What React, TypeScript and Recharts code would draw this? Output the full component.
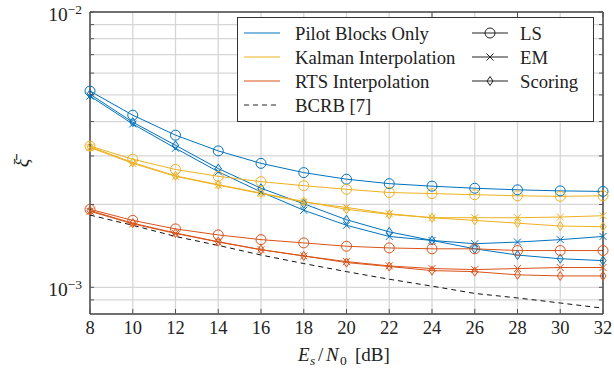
import React from 'react';
import { LineChart, Line, CartesianGrid, XAxis, YAxis } from 'recharts';

const snr = [8, 10, 12, 14, 16, 18, 20, 22, 24, 26, 28, 30, 32];

const pilotLS = [5.16e-3, 4.22e-3, 3.57e-3, 3.13e-3, 2.82e-3, 2.61e-3, 2.47e-3, 2.38e-3, 2.33e-3, 2.29e-3, 2.26e-3, 2.24e-3, 2.23e-3];
const pilotEM = [4.95e-3, 3.92e-3, 3.2e-3, 2.63e-3, 2.22e-3, 1.905e-3, 1.68e-3, 1.53e-3, 1.48e-3, 1.44e-3, 1.46e-3, 1.49e-3, 1.53e-3];
const pilotScoring = [5.03e-3, 3.98e-3, 3.28e-3, 2.7e-3, 2.29e-3, 2.01e-3, 1.76e-3, 1.59e-3, 1.48e-3, 1.38e-3, 1.31e-3, 1.27e-3, 1.25e-3];

const kalmanLS = [3.26e-3, 2.92e-3, 2.68e-3, 2.53e-3, 2.42e-3, 2.34e-3, 2.27e-3, 2.21e-3, 2.19e-3, 2.17e-3, 2.15e-3, 2.14e-3, 2.15e-3];
const kalmanEM = [3.22e-3, 2.82e-3, 2.53e-3, 2.35e-3, 2.19e-3, 2.04e-3, 1.95e-3, 1.85e-3, 1.79e-3, 1.79e-3, 1.79e-3, 1.8e-3, 1.82e-3];
const kalmanScoring = [3.24e-3, 2.84e-3, 2.54e-3, 2.36e-3, 2.2e-3, 2.05e-3, 1.92e-3, 1.84e-3, 1.79e-3, 1.75e-3, 1.71e-3, 1.67e-3, 1.66e-3];

const rtsLS = [1.92e-3, 1.75e-3, 1.63e-3, 1.55e-3, 1.49e-3, 1.45e-3, 1.41e-3, 1.39e-3, 1.38e-3, 1.38e-3, 1.36e-3, 1.36e-3, 1.36e-3];
const rtsEM = [1.89e-3, 1.7e-3, 1.57e-3, 1.46e-3, 1.37e-3, 1.3e-3, 1.24e-3, 1.196e-3, 1.17e-3, 1.16e-3, 1.17e-3, 1.18e-3, 1.18e-3];
const rtsScoring = [1.9e-3, 1.71e-3, 1.575e-3, 1.465e-3, 1.37e-3, 1.3e-3, 1.23e-3, 1.19e-3, 1.15e-3, 1.14e-3, 1.11e-3, 1.1e-3, 1.1e-3];

const bcrb = [1.83e-3, 1.68e-3, 1.53e-3, 1.42e-3, 1.31e-3, 1.22e-3, 1.14e-3, 1.07e-3, 1.01e-3, 9.5e-4, 9.15e-4, 8.77e-4, 8.4e-4];

const yTicks = [9e-4, 1e-3, 2e-3, 3e-3, 4e-3, 5e-3, 6e-3, 7e-3, 8e-3, 9e-3, 1e-2];
const yMajor: Record<string, string> = { '0.001': '−3', '0.01': '−2' };

const methodNames = ['Pilot Blocks Only', 'Kalman Interpolation', 'RTS Interpolation'];
const estimatorNames = ['LS', 'EM', 'Scoring'];

const BLUE = '#0072BD';
const YELLOW = '#EDB120';
const ORANGE = '#D95319';
const TICK = '#555';
// serif text, like the LaTeX figure
const txt: React.CSSProperties = { fontFamily: 'Liberation Serif' };

const data = snr.map((s, i) => ({
  snr: s,
  pilotLS: pilotLS[i],
  pilotEM: pilotEM[i],
  pilotScoring: pilotScoring[i],
  kalmanLS: kalmanLS[i],
  kalmanEM: kalmanEM[i],
  kalmanScoring: kalmanScoring[i],
  rtsLS: rtsLS[i],
  rtsEM: rtsEM[i],
  rtsScoring: rtsScoring[i],
  bcrb: bcrb[i],
}));

type Shape = 'circle' | 'cross' | 'diamond';

const drawMarker = (shape: Shape, cx: number, cy: number, color: string, key?: any) => {
  if (shape === 'circle') {
    return <circle key={key} cx={cx} cy={cy} r={5} fill="none" stroke={color} strokeWidth={1} />;
  }
  if (shape === 'cross') {
    return (
      <g key={key} stroke={color} strokeWidth={1}>
        <line x1={cx - 3.5} y1={cy - 3.5} x2={cx + 3.5} y2={cy + 3.5} />
        <line x1={cx - 3.5} y1={cy + 3.5} x2={cx + 3.5} y2={cy - 3.5} />
      </g>
    );
  }
  return (
    <path
      key={key}
      d={`M${cx},${cy - 4.5} L${cx + 3},${cy} L${cx},${cy + 4.5} L${cx - 3},${cy} Z`}
      fill="none"
      stroke={color}
      strokeWidth={1}
    />
  );
};

const makeDot = (shape: Shape, color: string) => (p: any) => {
  const { cx, cy, index } = p;
  if (cx == null || cy == null) return <g key={index} />;
  return drawMarker(shape, cx, cy, color, index);
};

const LeftTick = (props: any) => {
  const { x, y, payload } = props;
  const sup = yMajor[String(payload.value)];
  return (
    <g>
      <line x1={x} y1={y} x2={x + 4} y2={y} stroke={TICK} strokeWidth={1} />
      {sup && (
        <text x={x - 8} y={y + 9} textAnchor="end" style={txt} fontSize={19.5} fill="#222">
          10
          <tspan dy={-7} fontSize={13.5}>{sup}</tspan>
        </text>
      )}
    </g>
  );
};

const RightTick = (props: any) => {
  const { x, y } = props;
  return <line x1={x} y1={y} x2={x - 4} y2={y} stroke={TICK} strokeWidth={1} />;
};

const BottomTick = (props: any) => {
  const { x, y, payload } = props;
  return (
    <g>
      <line x1={x} y1={y} x2={x} y2={y - 5} stroke={TICK} strokeWidth={1} />
      <text x={x} y={y + 20} textAnchor="middle" style={txt} fontSize={18.5} fill="#222">
        {payload.value}
      </text>
    </g>
  );
};

const TopTick = (props: any) => {
  const { x, y } = props;
  return <line x1={x} y1={y} x2={x} y2={y + 5} stroke={TICK} strokeWidth={1} />;
};

const series: { key: string; color: string; shape: Shape }[] = [
  { key: 'pilotLS', color: BLUE, shape: 'circle' },
  { key: 'pilotEM', color: BLUE, shape: 'cross' },
  { key: 'pilotScoring', color: BLUE, shape: 'diamond' },
  { key: 'kalmanLS', color: YELLOW, shape: 'circle' },
  { key: 'kalmanEM', color: YELLOW, shape: 'cross' },
  { key: 'kalmanScoring', color: YELLOW, shape: 'diamond' },
  { key: 'rtsLS', color: ORANGE, shape: 'circle' },
  { key: 'rtsEM', color: ORANGE, shape: 'cross' },
  { key: 'rtsScoring', color: ORANGE, shape: 'diamond' },
];

const methodColors = [BLUE, YELLOW, ORANGE];
const estimatorShapes: Shape[] = ['circle', 'cross', 'diamond'];

const Overlay = () => (
  <svg width={614} height={373} style={{ position: 'absolute', left: 0, top: 0, pointerEvents: 'none' }}>
    {/* axis titles */}
    <text y={361} style={txt} fontSize={19} fill="#222">
      <tspan x={298} fontStyle="italic">E</tspan>
      <tspan x={310} dy={4} fontStyle="italic" fontSize={13.5}>s</tspan>
      <tspan x={318} dy={-4}>/</tspan>
      <tspan x={326} fontStyle="italic">N</tspan>
      <tspan x={340} dy={4} fontSize={13.5}>0</tspan>
      <tspan x={355} dy={-4}>[dB]</tspan>
    </text>
    <text
      x={0}
      y={0}
      transform="translate(29,163) rotate(-90)"
      textAnchor="middle"
      style={txt}
      fontSize={20}
      fontStyle="italic"
      fill="#222"
    >
      ξ̄
    </text>

    {/* legend */}
    <g transform="translate(237,17)">
      <rect x={0.5} y={0.5} width={356} height={104} fill="#fff" stroke="#333" strokeWidth={1} />
      {methodNames.map((name, i) => (
        <g key={name}>
          <line x1={7} x2={43} y1={16 + i * 24} y2={16 + i * 24} stroke={methodColors[i]} strokeWidth={1} />
          <text x={58} y={16 + i * 24} dominantBaseline="central" style={txt} fontSize={18.7} fill="#222">
            {name}
          </text>
        </g>
      ))}
      <line x1={7} x2={43} y1={88} y2={88} stroke="#222" strokeWidth={1} strokeDasharray="5 4" />
      <text x={58} y={88} dominantBaseline="central" style={txt} fontSize={18.7} fill="#222">
        BCRB [7]
      </text>
      {estimatorNames.map((name, i) => (
        <g key={name}>
          <line x1={235} x2={271} y1={16 + i * 24} y2={16 + i * 24} stroke="#222" strokeWidth={1} />
          {drawMarker(estimatorShapes[i], 253, 16 + i * 24, '#222')}
          <text x={283} y={16 + i * 24} dominantBaseline="central" style={txt} fontSize={18.7} fill="#222">
            {name}
          </text>
        </g>
      ))}
    </g>
  </svg>
);

const App: React.FC = () => {
  return (
    <div style={{ position: 'absolute', left: 0, top: 0, width: 614, height: 373, background: '#fff' }}>
      <LineChart width={614} height={373} data={data} margin={{ top: 11, right: 10, bottom: 29, left: 10 }}>
        <CartesianGrid stroke="#d6d6d6" strokeWidth={1.3} />
        <XAxis
          dataKey="snr"
          type="number"
          domain={[8, 32]}
          ticks={snr}
          interval={0}
          height={30}
          tickSize={0}
          tickMargin={0}
          tickLine={false}
          axisLine={{ stroke: '#000', strokeWidth: 1 }}
          tick={<BottomTick />}
        />
        <XAxis
          xAxisId="top"
          orientation="top"
          type="number"
          domain={[8, 32]}
          ticks={snr}
          interval={0}
          height={1}
          tickSize={0}
          tickMargin={0}
          tickLine={false}
          axisLine={{ stroke: '#000', strokeWidth: 1 }}
          tick={<TopTick />}
          allowDataOverflow
        />
        <YAxis
          scale="log"
          type="number"
          domain={[8e-4, 1e-2]}
          ticks={yTicks}
          interval={0}
          width={80}
          tickSize={0}
          tickMargin={0}
          tickLine={false}
          axisLine={{ stroke: '#000', strokeWidth: 1 }}
          tick={<LeftTick />}
          allowDataOverflow
        />
        <YAxis
          yAxisId="right"
          orientation="right"
          scale="log"
          type="number"
          domain={[8e-4, 1e-2]}
          ticks={yTicks}
          interval={0}
          width={1}
          tickSize={0}
          tickMargin={0}
          tickLine={false}
          axisLine={{ stroke: '#000', strokeWidth: 1 }}
          tick={<RightTick />}
          allowDataOverflow
        />
        <Line
          dataKey="bcrb"
          stroke="#111"
          strokeWidth={1}
          strokeDasharray="5 4"
          dot={false}
          type="linear"
          isAnimationActive={false}
        />
        {series.map((s) => (
          <Line
            key={s.key}
            dataKey={s.key}
            stroke={s.color}
            strokeWidth={1}
            type="linear"
            dot={makeDot(s.shape, s.color)}
            isAnimationActive={false}
          />
        ))}
      </LineChart>
      <Overlay />
    </div>
  );
};

export default App;
